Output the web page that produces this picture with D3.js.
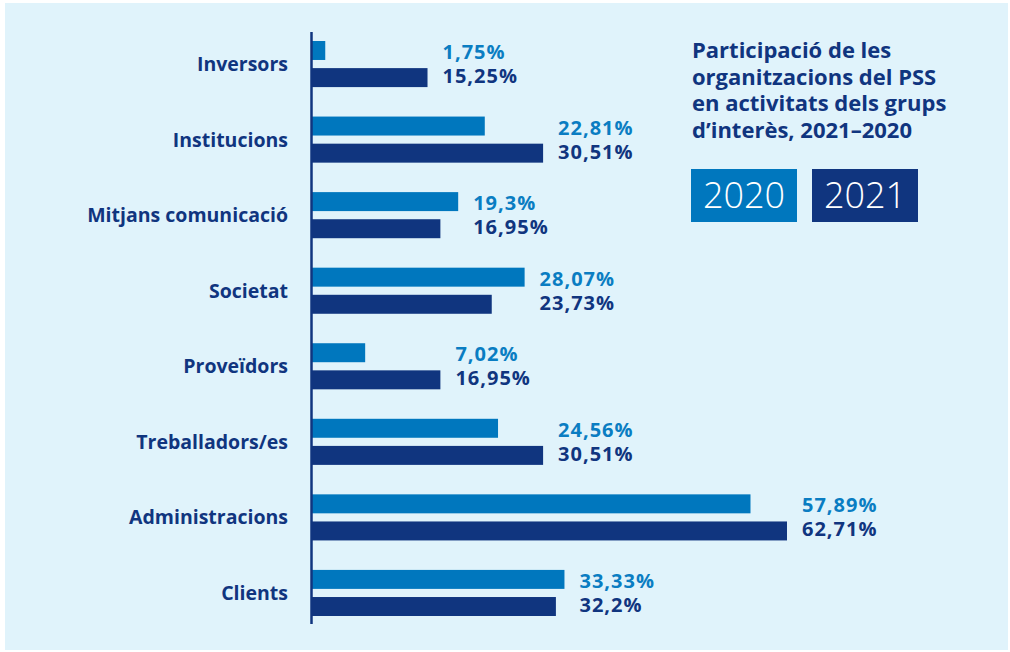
<!DOCTYPE html>
<html>
<head>
<meta charset="utf-8">
<script src="https://cdn.jsdelivr.net/npm/d3@7"></script>
<style>
  html, body { margin: 0; padding: 0; background: #fff; }
  svg { display: block; }
</style>
</head>
<body>
<div id="chart"></div>
<script>
const categories = ['Inversors', 'Institucions', 'Mitjans comunicació', 'Societat',
  'Proveïdors', 'Treballadors/es', 'Administracions', 'Clients'];
const years = ['2020', '2021'];
const values2020 = [1.75, 22.81, 19.3, 28.07, 7.02, 24.56, 57.89, 33.33];
const values2021 = [15.25, 30.51, 16.95, 23.73, 16.95, 30.51, 62.71, 32.2];
const titleLines = ['Participació de les', 'organitzacions del PSS',
  'en activitats dels grups', 'd\u2019interès, 2021\u20132020'];

const W = 1010, H = 652;
const LIGHT = '#0077be', DARK = '#10357f';
const FONT = "'Open Sans', 'DejaVu Sans', sans-serif";

function fmt(v) {
  return String(v).replace('.', ',') + '%';
}

const rows = categories.map((c, i) => ({
  cat: c,
  vals: [
    { year: '2020', v: values2020[i] },
    { year: '2021', v: values2021[i] }
  ]
}));

const svg = d3.select('#chart')
  .append('svg')
  .attr('width', W)
  .attr('height', H)
  .attr('font-family', FONT);

svg.append('rect')
  .attr('x', 5)
  .attr('y', 3)
  .attr('width', W - 7)
  .attr('height', H - 5)
  .attr('fill', '#e0f3fb');

const x = d3.scaleLinear()
  .domain([0, 62.71])
  .range([312, 787]);

const y = d3.scaleBand()
  .domain(categories)
  .range([41, 616])
  .paddingInner(0.39);

const y1 = d3.scaleBand()
  .domain(years)
  .range([0, y.bandwidth()])
  .paddingInner(0.3);

const g = svg.append('g');

const grp = g.selectAll('g.row')
  .data(rows)
  .join('g')
  .attr('class', 'row')
  .attr('transform', d => `translate(0,${y(d.cat)})`);

grp.selectAll('rect')
  .data(d => d.vals)
  .join('rect')
  .attr('x', x(0))
  .attr('y', d => y1(d.year))
  .attr('width', d => x(d.v) - x(0))
  .attr('height', y1.bandwidth())
  .attr('fill', d => d.year == '2020' ? LIGHT : DARK);

// value labels sit together after the longer bar
grp.each(function (d) {
  let lx = x(d3.max(d.vals, v => v.v)) + 15;
  d3.select(this).selectAll('text.val')
    .data(d.vals)
    .join('text')
    .attr('class', 'val')
    .attr('x', lx)
    .attr('y', v => y1(v.year) + y1.bandwidth() - (v.year == '2020' ? 1 : 4))
    .attr('font-size', 20)
    .attr('font-weight', 700)
    .attr('letter-spacing', 1)
    .attr('fill', v => v.year == '2020' ? '#0a7dc2' : DARK)
    .text(v => fmt(v.v));
});

grp.append('text')
  .attr('x', 288)
  .attr('y', y.bandwidth() / 2)
  .attr('dy', '0.36em')
  .attr('text-anchor', 'end')
  .attr('font-size', 19.5)
  .attr('font-weight', 700)
  .attr('fill', DARK)
  .text(d => d.cat);

// axis line
svg.append('line')
  .attr('x1', x(0) - 0.5)
  .attr('x2', x(0) - 0.5)
  .attr('y1', 32)
  .attr('y2', 624)
  .attr('stroke', DARK)
  .attr('stroke-width', 2.5);

// title
svg.append('g')
  .selectAll('text')
  .data(titleLines)
  .join('text')
  .attr('x', 692)
  .attr('y', (d, i) => 58 + i * 26.7)
  .attr('font-size', 22)
  .attr('font-weight', 700)
  .attr('fill', DARK)
  .text(d => d);

// legend
const leg = svg.append('g')
  .selectAll('g')
  .data(years)
  .join('g')
  .attr('transform', (d, i) => `translate(${691 + i * 121},169)`);

leg.append('rect')
  .attr('width', 106)
  .attr('height', 53)
  .attr('fill', d => d == '2020' ? LIGHT : DARK);

leg.append('text')
  .attr('x', 53)
  .attr('y', 39)
  .attr('text-anchor', 'middle')
  .attr('font-size', 36)
  .attr('font-weight', 300)
  .attr('fill', '#fff')
  .text(d => d);
</script>
</body>
</html>
